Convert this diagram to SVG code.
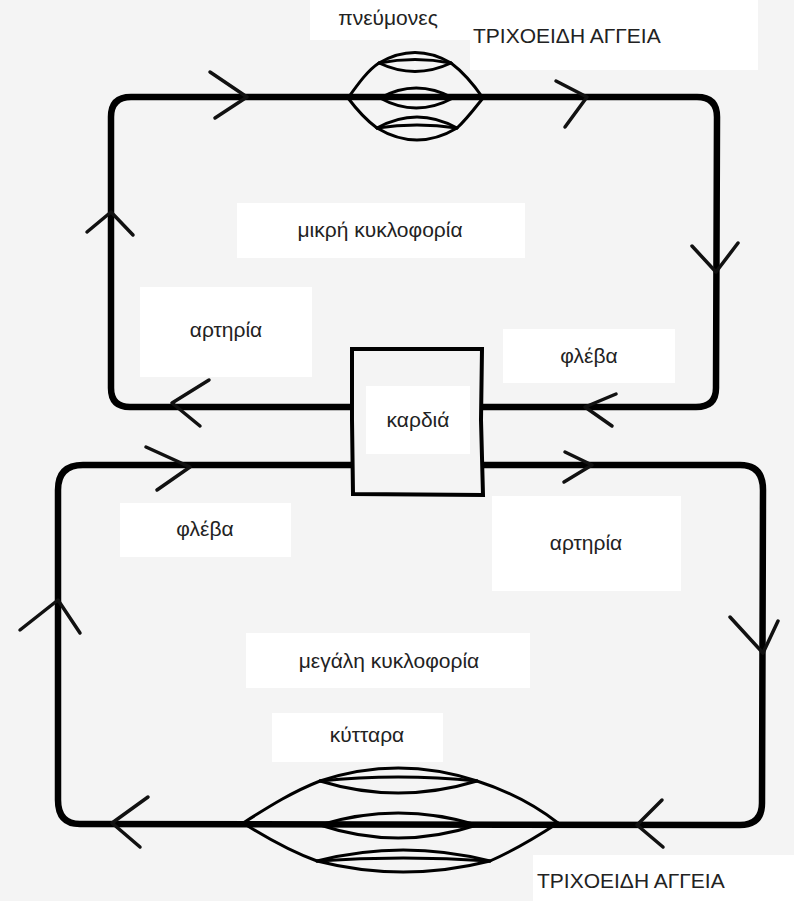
<svg xmlns="http://www.w3.org/2000/svg" width="794" height="901" viewBox="0 0 794 901">
<style>
.bg{fill:#f4f4f4}
.box{fill:#ffffff}
.t{font-family:"Liberation Sans",Arial,sans-serif;font-size:21px;fill:#222;text-anchor:middle}
.caps{font-family:"Liberation Sans",Arial,sans-serif;font-size:21px;fill:#222}
.vessel{fill:none;stroke:#000;stroke-width:6.5;stroke-linejoin:round;stroke-linecap:butt}
.cap{fill:none;stroke:#000;stroke-width:3;stroke-linejoin:round;stroke-linecap:round}
.arr{fill:none;stroke:#111;stroke-width:3.5;stroke-linecap:round;stroke-linejoin:round}
.heart{fill:#f4f4f4;stroke:#000;stroke-width:4}
</style>
<rect class="bg" x="0" y="0" width="794" height="901"/>

<g id="label-boxes">
<rect class="box" x="310" y="0" width="160" height="40"/>
<rect class="box" x="470" y="0" width="288" height="70"/>
<rect class="box" x="237" y="203" width="288" height="55"/>
<rect class="box" x="140" y="287" width="172" height="90"/>
<rect class="box" x="503" y="329" width="172" height="54"/>
<rect class="box" x="120" y="503" width="171" height="54"/>
<rect class="box" x="492" y="496" width="189" height="95"/>
<rect class="box" x="246" y="633" width="284" height="55"/>
<rect class="box" x="272" y="713" width="171" height="49"/>
<rect class="box" x="533" y="855" width="261" height="46"/>
</g>

<g id="connectors">
<path class="vessel" d="M352,407 L130,407 Q111,407 111,388 L111,117 Q111,97 131,97 L697,97 Q717,97 717,117 L716,388 Q716,407 696,407 L482,407"/>
<path class="vessel" d="M352,465 L83,465 Q58,465 58,490 L58,800 Q58,824 80,824 L740,825 Q762,825 762,803 L763,490 Q763,465 740,465 L482,465"/>
<polyline class="arr" points="210,72 247,97 215,118"/>
<polyline class="arr" points="556,81 587,97 565,127"/>
<polyline class="arr" points="692,246 716,272 738,243"/>
<polyline class="arr" points="616,394 585,407 612,426"/>
<polyline class="arr" points="209,380 172,403 200,426"/>
<polyline class="arr" points="87,232 111,212 133,235"/>
<polyline class="arr" points="146,447 190,467 157,490"/>
<polyline class="arr" points="565,452 592,465 564,482"/>
<polyline class="arr" points="730,617 763,653 778,621"/>
<polyline class="arr" points="662,800 637,825 663,847"/>
<polyline class="arr" points="148,797 112,823 140,847"/>
<polyline class="arr" points="20,630 58,600 80,633"/>
</g>

<g id="lungs">
<path class="cap" d="M348,98 C358,84 368,70 379,63"/>
<path class="cap" d="M451,63 C463,72 474,85 483,98"/>
<path class="cap" d="M379,63 Q415,42 451,63 Q415,80 379,63"/>
<path class="cap" d="M379,63 Q415,56 451,63"/>
<path class="cap" d="M380,98 Q416,78 453,98 Q416,118 380,98"/>
<path class="cap" d="M348,98 C357,110 366,120 377,128"/>
<path class="cap" d="M457,128 C466,120 475,108 483,98"/>
<path class="cap" d="M377,128 Q417,106 457,128 Q417,152 377,128"/>
<path class="cap" d="M377,128 Q417,122 457,128"/>
</g>

<g id="cells-capillaries">
<path class="cap" d="M243,823 C270,806 292,792 320,781"/>
<path class="cap" d="M477,781 C505,790 535,805 558,823"/>
<path class="cap" d="M320,781 Q398,755 477,781 Q398,805 320,781"/>
<path class="cap" d="M320,781 Q398,773 477,781"/>
<path class="cap" d="M320,825 Q398,801 477,825 Q398,851 320,825"/>
<path class="cap" d="M243,823 C270,840 292,852 317,861"/>
<path class="cap" d="M490,861 C515,850 538,836 558,823"/>
<path class="cap" d="M317,861 Q403,839 490,861 Q403,883 317,861"/>
<path class="cap" d="M317,861 Q403,855 490,861"/>
</g>

<g id="heart">
<path class="heart" d="M352,349 L482,349 L481,420 L483,495 L353,494 L352,420 Z"/>
<rect class="box" x="366" y="386" width="104" height="68"/>
<text class="t" x="418" y="427">καρδιά</text>
</g>

<g id="labels">
<text class="t" x="388" y="25">πνεύμονες</text>
<text class="caps" x="473" y="43">ΤΡΙΧΟΕΙΔΗ ΑΓΓΕΙΑ</text>
<text class="t" x="380" y="237">μικρή κυκλοφορία</text>
<text class="t" x="226" y="337">αρτηρία</text>
<text class="t" x="589" y="363">φλέβα</text>
<text class="t" x="205" y="536">φλέβα</text>
<text class="t" x="586" y="550">αρτηρία</text>
<text class="t" x="389" y="668">μεγάλη κυκλοφορία</text>
<text class="t" x="367" y="742">κύτταρα</text>
<text class="caps" x="537" y="888">ΤΡΙΧΟΕΙΔΗ ΑΓΓΕΙΑ</text>
</g>
</svg>
